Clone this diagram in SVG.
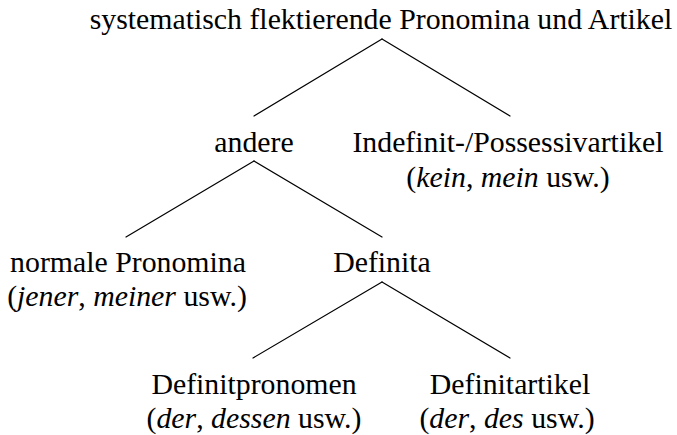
<svg xmlns="http://www.w3.org/2000/svg" width="677" height="435" viewBox="0 0 677 435">
<style>
text{font-family:"Liberation Serif","DejaVu Serif",serif;font-size:29.8px;fill:#000;text-anchor:middle}
.i{font-style:italic}
.e line{stroke:#000;stroke-width:1.2;stroke-linecap:round}
</style>
<rect width="677" height="435" fill="#fff"/>
<g id="connectors" class="e">
<line x1="382" y1="39" x2="254" y2="116"/>
<line x1="382" y1="39" x2="510" y2="116"/>
<line x1="254" y1="161" x2="126" y2="237"/>
<line x1="254" y1="161" x2="382" y2="237"/>
<line x1="382" y1="282" x2="253" y2="358"/>
<line x1="382" y1="282" x2="510" y2="358"/>
</g>
<g id="root"><text x="381" y="29">systematisch flektierende Pronomina und Artikel</text></g>
<g id="andere"><text x="254" y="152">andere</text></g>
<g id="indefinit"><text x="508" y="152">Indefinit-/Possessivartikel</text><text x="508" y="187">(<tspan class="i">kein</tspan>, <tspan class="i">mein</tspan> usw.)</text></g>
<g id="normale"><text x="128" y="272">normale Pronomina</text><text x="127" y="306">(<tspan class="i">jener</tspan>, <tspan class="i">meiner</tspan> usw.)</text></g>
<g id="definita"><text x="382" y="272">Definita</text></g>
<g id="definitpronomen"><text x="254" y="394">Definitpronomen</text><text x="254" y="428">(<tspan class="i">der</tspan>, <tspan class="i">dessen</tspan> usw.)</text></g>
<g id="definitartikel"><text x="510" y="394">Definitartikel</text><text x="507" y="428">(<tspan class="i">der</tspan>, <tspan class="i">des</tspan> usw.)</text></g>
</svg>
